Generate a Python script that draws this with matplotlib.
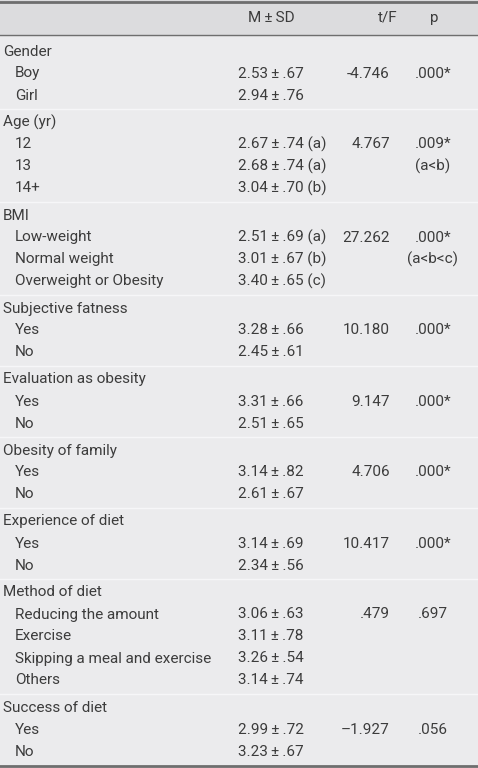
import matplotlib
matplotlib.use('Agg')
import matplotlib.pyplot as plt

# Table data
header = ['M\u2009\u00b1\u2009SD', 't/F', 'p']
groups = ['Gender', 'Age (yr)', 'BMI', 'Subjective fatness', 'Evaluation as obesity',
          'Obesity of family', 'Experience of diet', 'Method of diet', 'Success of diet']
items = [['Boy', 'Girl'],
         ['12', '13', '14+'],
         ['Low-weight', 'Normal weight', 'Overweight or Obesity'],
         ['Yes', 'No'],
         ['Yes', 'No'],
         ['Yes', 'No'],
         ['Yes', 'No'],
         ['Reducing the amount', 'Exercise', 'Skipping a meal and exercise', 'Others'],
         ['Yes', 'No']]
msd = [['2.53\u00b1.67', '2.94\u00b1.76'],
       ['2.67\u00b1.74 (a)', '2.68\u00b1.74 (a)', '3.04\u00b1.70 (b)'],
       ['2.51\u00b1.69 (a)', '3.01\u00b1.67 (b)', '3.40\u00b1.65 (c)'],
       ['3.28\u00b1.66', '2.45\u00b1.61'],
       ['3.31\u00b1.66', '2.51\u00b1.65'],
       ['3.14\u00b1.82', '2.61\u00b1.67'],
       ['3.14\u00b1.69', '2.34\u00b1.56'],
       ['3.06\u00b1.63', '3.11\u00b1.78', '3.26\u00b1.54', '3.14\u00b1.74'],
       ['2.99\u00b1.72', '3.23\u00b1.67']]
tf = ['-4.746', '4.767', '27.262', '10.180', '9.147', '4.706', '10.417', '.479', '\u20131.927']
p_vals = ['.000*', '.009*', '.000*', '.000*', '.000*', '.000*', '.000*', '.697', '.056']
p_notes = ['', '(a<b)', '(a<b<c)', '', '', '', '', '', '']

W, H = 478, 768
fig = plt.figure(figsize=(W / 100, H / 100), dpi=100)
ax = fig.add_axes([0, 0, 1, 1])
ax.set_xlim(0, W)
ax.set_ylim(H, 0)
ax.axis('off')

txt = dict(fontsize=11.0, color='#3c3c3c', family=['Roboto', 'DejaVu Sans'],
           fontweight='normal', va='center')

# backgrounds
ax.axhspan(0, H, color='#ebebed', zorder=0)
ax.axhspan(0, 35, color='#dcdcde', zorder=0)
ax.axhline(1.5, color='#6e6e6e', lw=2)
ax.axhline(35, color='#6e6e6e', lw=1)
ax.axhline(766, color='#6e6e6e', lw=2)

# header
ax.text(271, 18, header[0], ha='center', **txt)
ax.text(388, 18, header[1], ha='center', **txt)
ax.text(434, 18, header[2], ha='center', **txt)

pitch = 22.0
gap = 5.0
y = 51.5
for g, name in enumerate(groups):
    if g > 0:
        ax.axhline(y - (pitch + gap) / 2, color='#f6f6f8', lw=1)
    ax.text(3, y, name, ha='left', **txt)
    for i, it in enumerate(items[g]):
        y += pitch
        ax.text(15, y, it, ha='left', **txt)
        ax.text(238, y, msd[g][i].replace('\u00b1', '\u2009\u00b1\u2009'), ha='left', **txt)
        if i == 0:
            ax.text(390, y, tf[g], ha='right', **txt)
            ax.text(433, y, p_vals[g], ha='center', **txt)
        if i == 1 and p_notes[g]:
            ax.text(433, y, p_notes[g], ha='center', **txt)
    y += pitch + gap

fig.savefig('out.png', dpi=100)
